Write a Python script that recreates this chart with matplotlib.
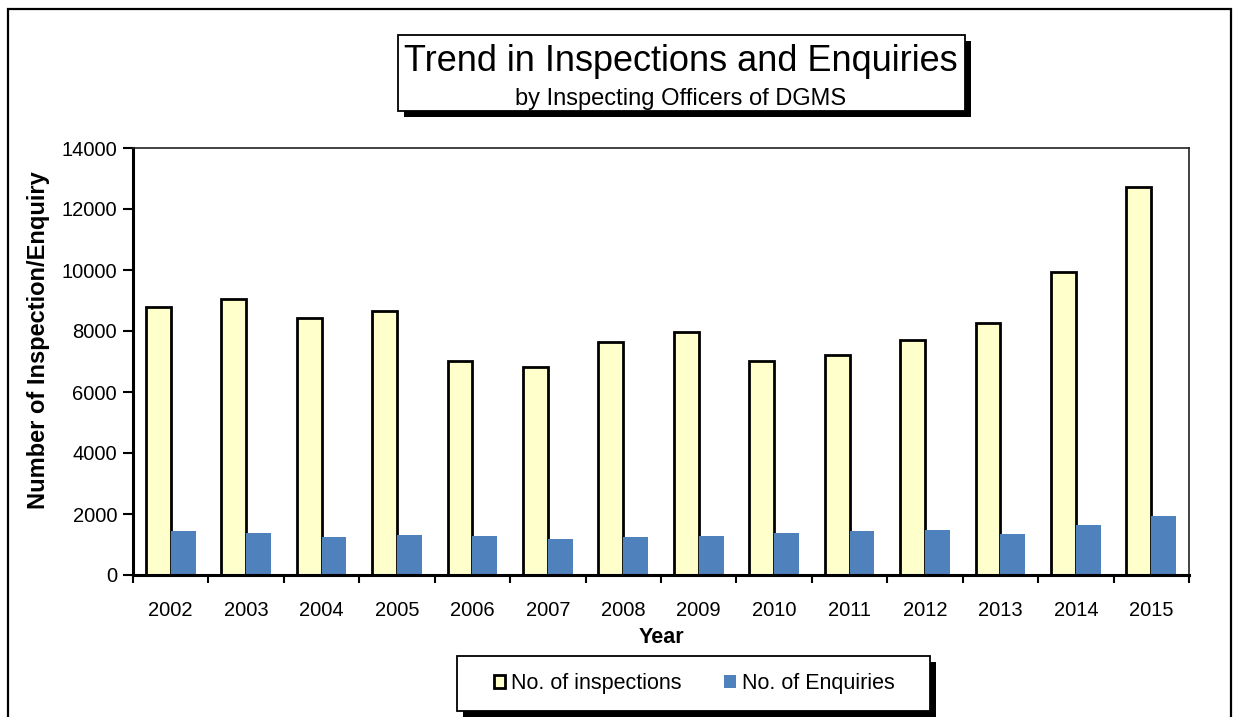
import matplotlib.pyplot as plt
from matplotlib.patches import Rectangle
import numpy as np

plt.rcParams['font.family'] = ['Liberation Sans', 'DejaVu Sans']

years = ['2002', '2003', '2004', '2005', '2006', '2007', '2008',
         '2009', '2010', '2011', '2012', '2013', '2014', '2015']
inspections = [8780, 9050, 8410, 8640, 7030, 6810, 7650,
               7960, 7020, 7210, 7720, 8260, 9930, 12710]
enquiries = [1430, 1370, 1260, 1300, 1280, 1170, 1260,
             1290, 1390, 1455, 1490, 1355, 1650, 1945]

W, H = 1233, 717
fig = plt.figure(figsize=(W / 100, H / 100), dpi=100)

# background layer in pixel units: outer frame, title box and legend box
bg = fig.add_axes([0, 0, 1, 1], zorder=-1)
bg.set_xlim(0, W)
bg.set_ylim(H, 0)
bg.axis('off')
bg.plot([8, 8, 1231, 1231], [730, 9, 9, 730], color='black', lw=1.6,
        solid_joinstyle='miter')


def shadow_box(x, y, w, h):
    bg.add_patch(Rectangle((x + 6, y + 6), w, h, facecolor='black',
                           edgecolor='none'))
    bg.add_patch(Rectangle((x, y), w, h, facecolor='white',
                           edgecolor='black', lw=1.3))


shadow_box(398, 35, 567, 76)
shadow_box(457, 656, 473, 55)

ax = fig.add_axes([133 / W, 1 - 575 / H, (1189 - 133) / W, (575 - 148) / H])

x = np.arange(len(years))
bw = 0.33
b1 = ax.bar(x - bw / 2, inspections, bw, color='#FFFFCC', edgecolor='black',
            linewidth=2, label='No. of inspections')
b2 = ax.bar(x + bw / 2, enquiries, bw, color='#4F81BD', edgecolor='none',
            label='No. of Enquiries')

ax.set_xlim(-0.5, len(years) - 0.5)
ax.set_ylim(0, 14000)
ax.set_yticks(np.arange(0, 14001, 2000))
ax.set_xticks(x)
ax.set_xticklabels(years)
ax.set_xticks(np.arange(-0.5, len(years)), minor=True)
ax.tick_params(axis='x', which='major', length=0, pad=19, labelsize=14.5)
ax.tick_params(axis='x', which='minor', length=6, width=1.5)
ax.tick_params(axis='y', length=7, width=1.5, pad=4.5, labelsize=14.5)

for side in ['left', 'bottom']:
    ax.spines[side].set_linewidth(2.2)
for side in ['top', 'right']:
    ax.spines[side].set_linewidth(1.2)
    ax.spines[side].set_color('#222222')

ax.set_xlabel('Year', fontsize=15.5, fontweight='bold', labelpad=5)
ax.set_ylabel('Number of Inspection/Enquiry', fontsize=17, fontweight='bold')
ax.yaxis.set_label_coords(-0.079, 0.55)

fig.text(681 / W, 1 - 71 / H, 'Trend in Inspections and Enquiries',
         fontsize=26, ha='center', va='baseline')
fig.text(681 / W, 1 - 105 / H, 'by Inspecting Officers of DGMS',
         fontsize=17, ha='center', va='baseline')

ax.legend(handles=[b1, b2], loc='center', bbox_to_anchor=(694 / W, 1 - 684 / H),
          bbox_transform=fig.transFigure, ncol=2, frameon=False, fontsize=15.5,
          handlelength=0.55, handleheight=0.55, handletextpad=0.25,
          columnspacing=2.0)

fig.savefig('out.png', dpi=100)
